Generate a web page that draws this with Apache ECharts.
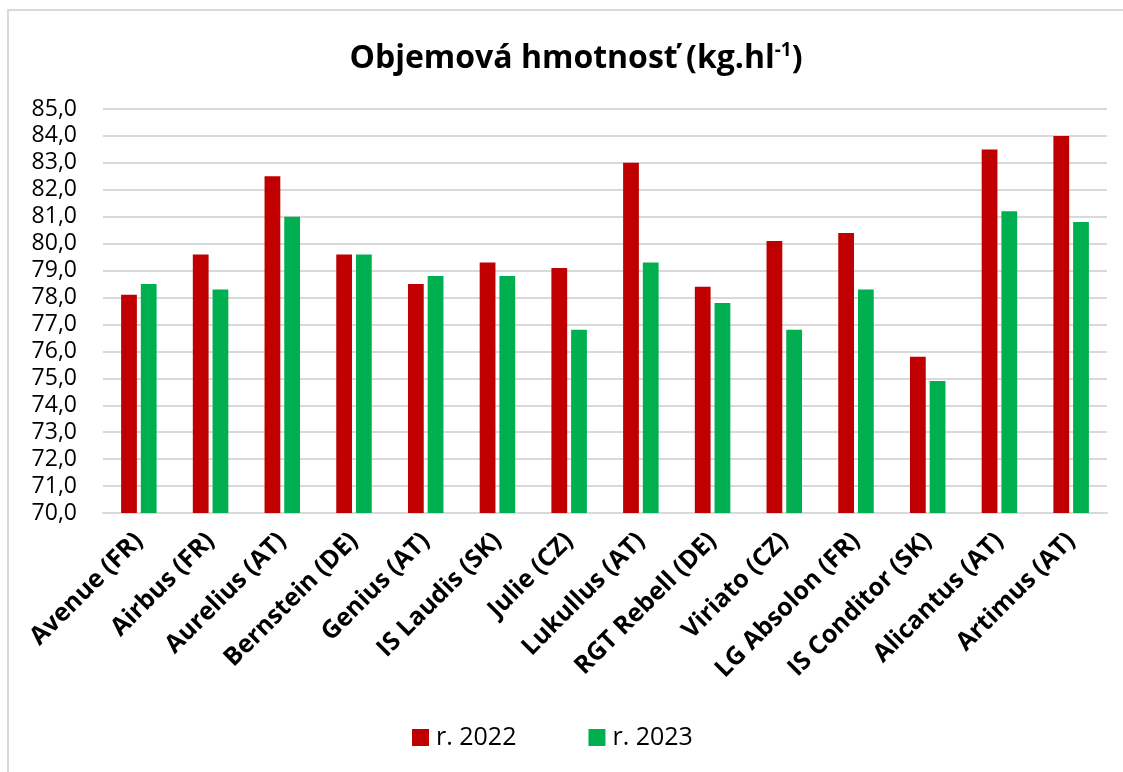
<!DOCTYPE html>
<html>
<head>
<meta charset="utf-8">
<title>Objemová hmotnosť</title>
<script src="https://cdn.jsdelivr.net/npm/echarts@6/dist/echarts.min.js"></script>
<style>
	html, body { margin: 0; padding: 0; background: #fff; }
	#main { width: 1123px; height: 772px; }
</style>
</head>
<body>
<div id="main"></div>
<script>
	// odrody
	var categories = ['Avenue (FR)', 'Airbus (FR)', 'Aurelius (AT)', 'Bernstein (DE)', 'Genius (AT)', 'IS Laudis (SK)',
		'Julie (CZ)', 'Lukullus (AT)', 'RGT Rebell (DE)', 'Viriato (CZ)', 'LG Absolon (FR)', 'IS Conditor (SK)',
		'Alicantus (AT)', 'Artimus (AT)'];
	var r2022 = [78.1, 79.6, 82.5, 79.6, 78.5, 79.3, 79.1, 83.0, 78.4, 80.1, 80.4, 75.8, 83.5, 84.0];
	var r2023 = [78.5, 78.3, 81.0, 79.6, 78.8, 78.8, 76.8, 79.3, 77.8, 76.8, 78.3, 74.9, 81.2, 80.8];
	var yTicks = { min: 70, max: 85, step: 1 };

	var font = '"Open Sans", sans-serif';

	var option = {
		animation: false,
		textStyle: { fontFamily: font },
		title: {
			text: '{b|Objemová hmotnosť (kg.hl}{sup|-1}{b|)}',
			left: 571,
			textAlign: 'center',
			top: 36,
			textStyle: {
				rich: {
					b: { fontFamily: font, fontSize: 32, fontWeight: 'bold', color: '#000' },
					sup: { fontFamily: font, fontSize: 19, fontWeight: 'bold', color: '#000', padding: [0, 0, 17, 0] }
				}
			}
		},
		legend: {
			bottom: 17,
			left: 407,
			itemWidth: 17,
			itemHeight: 17,
			itemGap: 72,
			icon: 'rect',
			textStyle: { fontSize: 25, color: '#000', padding: [0, 0, 0, 2] },
			data: ['r. 2022', 'r. 2023']
		},
		grid: {
			left: 103,
			right: 16,
			top: 109,
			bottom: 259
		},
		xAxis: {
			type: 'category',
			data: categories,
			axisLine: { lineStyle: { color: '#d9d9d9', width: 2 } },
			axisTick: { show: false },
			axisLabel: {
				interval: 0,
				rotate: 45,
				margin: 24,
				fontSize: 25,
				fontWeight: 'bold',
				color: '#000'
			}
		},
		yAxis: {
			type: 'value',
			min: yTicks.min,
			max: yTicks.max,
			interval: yTicks.step,
			axisLine: { show: false },
			axisTick: { show: false },
			splitLine: { lineStyle: { color: '#d9d9d9', width: 2 } },
			axisLabel: {
				margin: 26,
				fontSize: 23,
				color: '#000',
				formatter: function (v) {
					return v.toFixed(1).replace('.', ',');
				}
			}
		},
		series: [
			{
				name: 'r. 2022',
				type: 'bar',
				barWidth: '22%',
				barGap: '25%',
				itemStyle: { color: '#c00000' },
				data: r2022
			},
			{
				name: 'r. 2023',
				type: 'bar',
				barWidth: '22%',
				itemStyle: { color: '#00b050' },
				data: r2023
			}
		],
		graphic: [
			{
				// okraj grafu
				type: 'rect',
				shape: { x: 8, y: 10, width: 1130, height: 780 },
				style: { fill: 'none', stroke: '#d9d9d9', lineWidth: 2 },
				silent: true
			}
		]
	};

	var chart = echarts.init(document.getElementById('main'), null, { renderer: 'canvas' });
	chart.setOption(option);
</script>
</body>
</html>
